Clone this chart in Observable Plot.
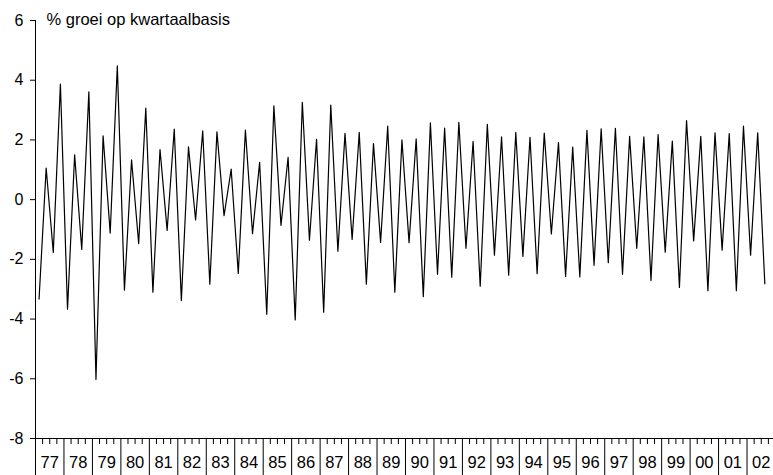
<!DOCTYPE html>
<html>
<head>
<meta charset="utf-8">
<script src="https://cdn.jsdelivr.net/npm/d3@7"></script>
<script src="https://cdn.jsdelivr.net/npm/@observablehq/plot@0.6"></script>
<style>
  html, body { margin: 0; padding: 0; background: #fff; }
</style>
</head>
<body>
<div id="chart"></div>
<script>
// Chart texts
const chartTitle = "% groei op kwartaalbasis";

// First year / quarter of the series
const startYear = 1977;

// Quarterly growth (%), 1977Q1 .. 2002Q3
const quarterlyGrowth = [
  -3.33, 1.06, -1.77, 3.87,   // 77
  -3.67, 1.50, -1.67, 3.61,   // 78
  -6.02, 2.14, -1.12, 4.48,   // 79
  -3.03, 1.33, -1.47, 3.07,   // 80
  -3.10, 1.68, -1.03, 2.36,   // 81
  -3.38, 1.77, -0.68, 2.30,   // 82
  -2.83, 2.27, -0.54, 1.02,   // 83
  -2.47, 2.33, -1.14, 1.25,   // 84
  -3.84, 3.14, -0.86, 1.42,   // 85
  -4.03, 3.26, -1.36, 2.02,   // 86
  -3.77, 3.17, -1.73, 2.22,   // 87
  -1.33, 2.25, -2.83, 1.88,   // 88
  -1.43, 2.46, -3.10, 2.00,   // 89
  -1.44, 2.04, -3.25, 2.57,   // 90
  -2.50, 2.40, -2.60, 2.59,   // 91
  -1.63, 1.95, -2.90, 2.52,   // 92
  -1.86, 2.10, -2.53, 2.25,   // 93
  -1.90, 2.09, -2.48, 2.23,   // 94
  -1.15, 1.91, -2.57, 1.76,   // 95
  -2.59, 2.32, -2.20, 2.37,   // 96
  -2.11, 2.39, -2.50, 2.12,   // 97
  -1.63, 2.10, -2.71, 2.18,   // 98
  -1.76, 1.96, -2.94, 2.65,   // 99
  -1.38, 2.12, -3.05, 2.24,   // 00
  -1.69, 2.21, -3.05, 2.46,   // 01
  -1.86, 2.24, -2.82          // 02
];

// Year tick labels
const yearLabels = ["77","78","79","80","81","82","83","84","85","86","87","88","89",
                    "90","91","92","93","94","95","96","97","98","99","00","01","02"];

// Y tick values
const yTicks = [-8, -6, -4, -2, 0, 2, 4, 6];

// Derived tables for the library
const data = quarterlyGrowth.map((v, i) => ({t: startYear + (i + 0.5) / 4, value: v}));
const yearStarts = yearLabels.map((_, i) => startYear + i);
const yearMids = yearLabels.map((_, i) => startYear + i + 0.5);
const quarterTicks = [];
yearLabels.forEach((_, i) => { for (let q = 1; q < 4; q++) quarterTicks.push(startYear + i + q / 4); });

const chart = Plot.plot({
  width: 773,
  height: 475,
  marginLeft: 35,
  marginRight: 0,
  marginTop: 20,
  marginBottom: 37,
  style: {fontFamily: "'Liberation Sans', Arial, sans-serif", fontSize: "16px", color: "#000", background: "#fff"},
  x: {domain: [startYear, startYear + 25.93], axis: null},
  y: {domain: [-8, 6], axis: null},
  marks: [
    Plot.axisY({ticks: yTicks, tickSize: 5, tickPadding: 7, label: null, fontSize: 16, tickFormat: d => String(d)}),
    Plot.axisX({ticks: quarterTicks, tickSize: 6, tickFormat: () => "", label: null}),
    Plot.axisX({ticks: yearStarts, tickSize: 37, tickFormat: () => "", label: null}),
    Plot.axisX({ticks: yearMids, tickSize: 0, tickPadding: 18, fontSize: 16.5, label: null,
                tickFormat: d => yearLabels[Math.round(d - startYear - 0.5)]}),
    Plot.ruleY([-8], {stroke: "#000"}),
    Plot.ruleX([startYear], {y1: -8, y2: 6, stroke: "#000"}),
    Plot.line(data, {x: "t", y: "value", stroke: "#000", strokeWidth: 1.2}),
    Plot.text([chartTitle], {frameAnchor: "top-left", dx: 11, dy: -1, lineAnchor: "middle",
                             textAnchor: "start", fontSize: 16.5, fill: "#000"})
  ]
});
document.getElementById("chart").appendChild(chart);
</script>
</body>
</html>
